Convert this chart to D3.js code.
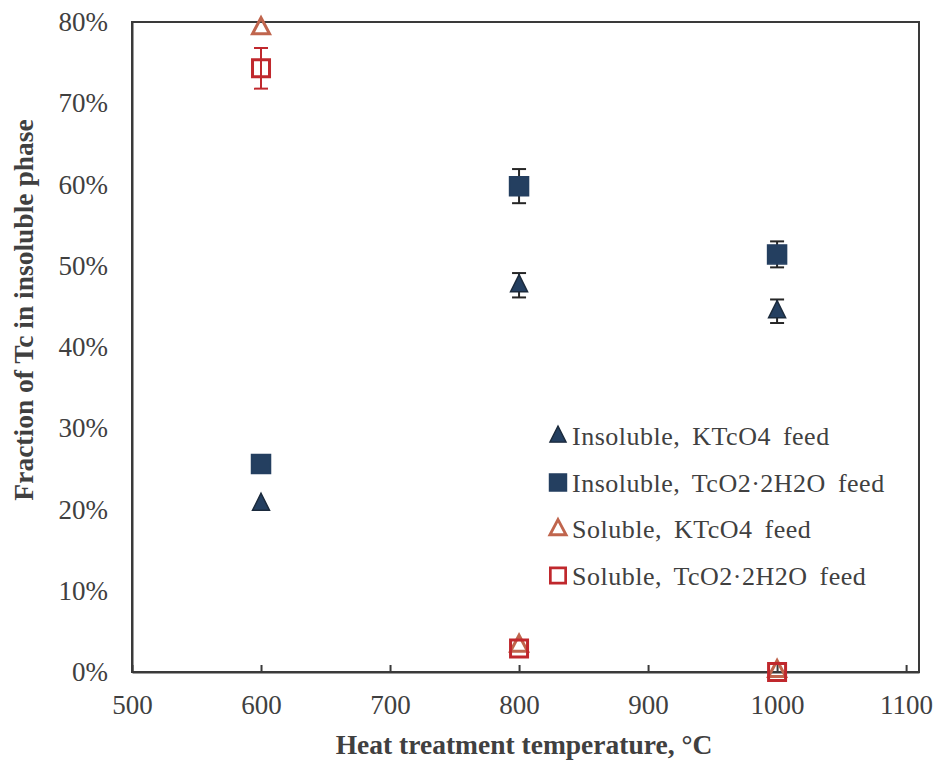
<!DOCTYPE html>
<html>
<head>
<meta charset="utf-8">
<script src="https://cdn.jsdelivr.net/npm/d3@7"></script>
<style>
body { margin: 0; background: #fff; }
svg text { font-family: "Liberation Serif", "Times New Roman", serif; }
</style>
</head>
<body>
<div id="wrapper"></div>
<script>
const temps = [600, 800, 1000];
const insolKTcO4 = [20.7, 47.6, 44.4];
const insolKTcO4Err = [0, 1.5, 1.45];
const insolTcO2 = [25.6, 59.8, 51.4];
const insolTcO2Err = [0, 2.1, 1.6];
const solKTcO4 = [79.3, 3.3, 0.2];
const solKTcO4Err = [0, 0, 0];
const solTcO2 = [74.3, 2.9, 0];
const solTcO2Err = [2.5, 0, 0];
const xTicks = [500, 600, 700, 800, 900, 1000, 1100];
const yTicks = [0, 10, 20, 30, 40, 50, 60, 70, 80];

const seriesList = [
    {name: "Insoluble, KTcO4 feed", vals: insolKTcO4, err: insolKTcO4Err, shape: "tri", fill: "#243f60", stroke: "#1b2a3c", errColor: "#262626"},
    {name: "Insoluble, TcO2\u00b72H2O feed", vals: insolTcO2, err: insolTcO2Err, shape: "sq", fill: "#243f60", stroke: "#243f60", errColor: "#262626"},
    {name: "Soluble, KTcO4 feed", vals: solKTcO4, err: solKTcO4Err, shape: "tri", fill: "#fff", stroke: "#c0654d", errColor: "#c0654d"},
    {name: "Soluble, TcO2\u00b72H2O feed", vals: solTcO2, err: solTcO2Err, shape: "sq", fill: "#fff", stroke: "#c0282d", errColor: "#c0282d"}
];

const dim = {
    width: 937,
    height: 763,
    margin: {top: 22, left: 132, right: 18, bottom: 91}
};
dim.boundedWidth = dim.width - dim.margin.left - dim.margin.right;
dim.boundedHeight = dim.height - dim.margin.top - dim.margin.bottom;

const svg = d3.select("#wrapper").append("svg")
    .attr("width", dim.width)
    .attr("height", dim.height);
const bounded = svg.append("g")
    .attr("transform", `translate(${dim.margin.left},${dim.margin.top})`);

const xScale = d3.scaleLinear()
    .domain([500, 1110])
    .range([0, dim.boundedWidth]);
const yScale = d3.scaleLinear()
    .domain([0, 80])
    .range([dim.boundedHeight, 0]);

// frame
bounded.append("rect")
    .attr("width", dim.boundedWidth)
    .attr("height", dim.boundedHeight)
    .attr("fill", "none")
    .attr("stroke", "#3a3a3a")
    .attr("stroke-width", 2);

// x axis, ticks pointing in
const xAxis = d3.axisBottom(xScale)
    .tickValues(xTicks)
    .tickFormat(d3.format("d"))
    .tickSizeInner(-7)
    .tickSizeOuter(0)
    .tickPadding(23);
const xg = bounded.append("g")
    .attr("transform", `translate(0,${dim.boundedHeight})`)
    .call(xAxis)
    .attr("font-family", null);
xg.select(".domain").attr("stroke", "#3a3a3a").attr("stroke-width", 2);
xg.selectAll(".tick line").attr("stroke", "#3a3a3a").attr("stroke-width", 2);
xg.selectAll("text").attr("font-size", 27).attr("fill", "#404040");

const yAxis = d3.axisLeft(yScale)
    .tickValues(yTicks)
    .tickSize(0)
    .tickPadding(24)
    .tickFormat(d => d + "%");
const yg = bounded.append("g").call(yAxis)
    .attr("font-family", null);
yg.select(".domain").attr("stroke", "#3a3a3a").attr("stroke-width", 2);
yg.selectAll("text").attr("font-size", 27).attr("fill", "#404040");

// axis titles
svg.append("text")
    .attr("x", 524)
    .attr("y", 754)
    .attr("text-anchor", "middle")
    .attr("font-size", 27.5)
    .attr("font-weight", "bold")
    .attr("fill", "#404040")
    .text("Heat treatment temperature, \u00b0C");
svg.append("text")
    .attr("transform", "translate(33,310) rotate(-90)")
    .attr("text-anchor", "middle")
    .attr("font-size", 27.5)
    .attr("font-weight", "bold")
    .attr("fill", "#404040")
    .text("Fraction of Tc in insoluble phase");

function markerPath(shape, open) {
    if (shape === "sq") {
        const s = open ? 17 : 19;
        return `M${-s/2},${-s/2}h${s}v${s}h${-s}Z`;
    }
    const w = open ? 17 : 17, h = open ? 16 : 17;
    return `M0,${-h*0.62}L${w/2},${h*0.38}L${-w/2},${h*0.38}Z`;
}

// error bars then markers
seriesList.forEach(s => {
    const pts = temps.map((t, i) => ({t: t, v: s.vals[i], e: s.err[i]}));
    const g = bounded.append("g");
    const eb = g.selectAll("g.err").data(pts.filter(d => d.e > 0)).join("g")
        .attr("stroke", s.errColor).attr("stroke-width", 2);
    eb.append("line")
        .attr("x1", d => xScale(d.t)).attr("x2", d => xScale(d.t))
        .attr("y1", d => yScale(d.v + d.e)).attr("y2", d => yScale(d.v - d.e));
    eb.append("line")
        .attr("x1", d => xScale(d.t) - 7).attr("x2", d => xScale(d.t) + 7)
        .attr("y1", d => yScale(d.v + d.e)).attr("y2", d => yScale(d.v + d.e));
    eb.append("line")
        .attr("x1", d => xScale(d.t) - 7).attr("x2", d => xScale(d.t) + 7)
        .attr("y1", d => yScale(d.v - d.e)).attr("y2", d => yScale(d.v - d.e));
});
seriesList.forEach(s => {
    const open = s.fill === "#fff";
    const pts = temps.map((t, i) => ({t: t, v: s.vals[i]}));
    bounded.append("g").selectAll("path").data(pts).join("path")
        .attr("transform", d => `translate(${xScale(d.t)},${yScale(d.v)})`)
        .attr("d", markerPath(s.shape, open))
        .attr("fill", open ? "none" : s.fill)
        .attr("stroke", s.stroke)
        .attr("stroke-width", open ? 3 : 1.5);
});

// legend
const legend = svg.append("g").attr("transform", "translate(558,436)");
seriesList.forEach((s, i) => {
    const open = s.fill === "#fff";
    const row = legend.append("g").attr("transform", `translate(0,${i * 46.5})`);
    row.append("path")
        .attr("d", markerPath(s.shape, open))
        .attr("transform", s.shape === "sq" ? "scale(0.9)" : "scale(0.95)")
        .attr("fill", open ? "none" : s.fill)
        .attr("stroke", s.stroke)
        .attr("stroke-width", open ? 3 : 1.5);
    row.append("text")
        .attr("x", 14)
        .attr("y", 9)
        .attr("font-size", 26)
        .attr("fill", "#404040")
        .attr("word-spacing", 5)
        .attr("letter-spacing", 0.5)
        .text(s.name);
});
</script>
</body>
</html>
